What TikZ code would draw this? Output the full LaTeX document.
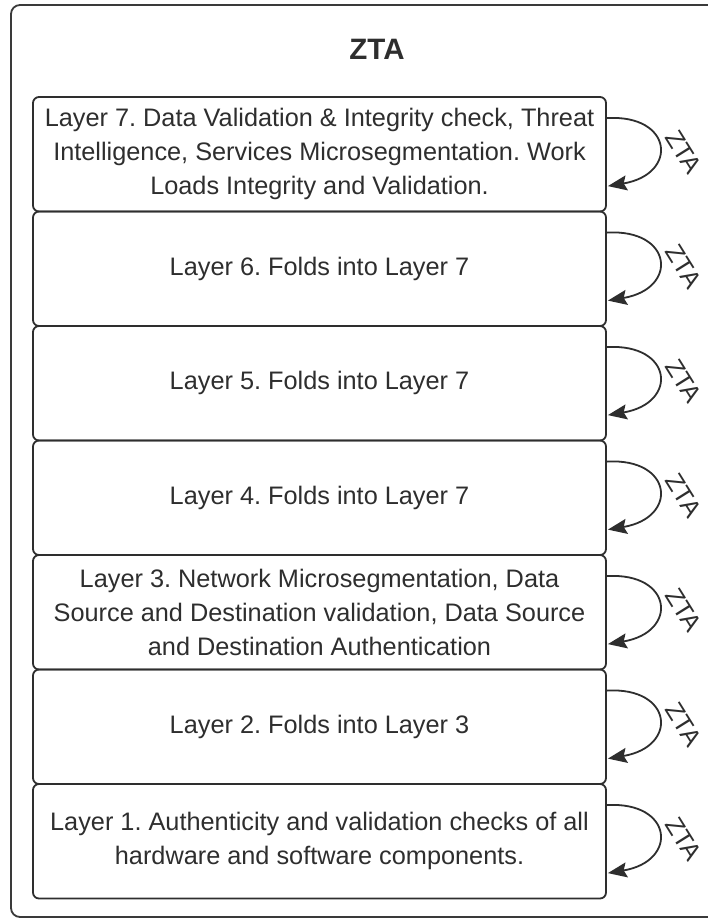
\documentclass[tikz,border=0pt]{standalone}
\usepackage{fontspec}
\setmainfont{Liberation Sans}
\usetikzlibrary{calc,arrows.meta}
\frenchspacing

\definecolor{ink}{HTML}{2E2E2E}
\definecolor{frameink}{HTML}{3A3A3A}

\tikzset{
  layerbox/.style={draw=ink, line width=1.8pt, rounded corners=6pt,
    minimum width=573pt, minimum height=114.5pt, inner sep=0pt,
    align=center, text=ink, font=\fontsize{25.3}{34}\selectfont},
  zloop/.style={draw=ink, line width=1.8pt,
    -{Stealth[length=19pt,width=15pt,inset=3pt]}},
  zlabel/.style={text=ink, rotate=-58, inner sep=0pt,
    font=\fontsize{25}{30}\selectfont},
  titletext/.style={text=ink, inner sep=0pt,
    font=\bfseries\fontsize{29.5}{34}\selectfont}
}

\begin{document}
\begin{tikzpicture}[x=1pt, y=-1pt]
  \useasboundingbox (0,0) rectangle (708,919);
  \begin{scope}
    \clip (0,0) rectangle (708,919);
    \fill[white] (0,0) rectangle (708,919);

    % outer container
    \draw[frameink, line width=1.8pt, rounded corners=9pt]
      (11,5) rectangle (745,917);
    \node[titletext] (title) at (377,49) {ZTA};

    % stacked layers, top to bottom
    \node[layerbox] (l7) at (319.5,154.25) {Layer 7. Data Validation \& Integrity check, Threat\\
      Intelligence, Services Microsegmentation. Work\\ Loads Integrity and Validation.};
    \node[layerbox] (l6) at (319.5,268.75) {Layer 6. Folds into Layer 7};
    \node[layerbox] (l5) at (319.5,383.25) {Layer 5. Folds into Layer 7};
    \node[layerbox] (l4) at (319.5,497.75) {Layer 4. Folds into Layer 7};
    \node[layerbox] (l3) at (319.5,612.25) {Layer 3. Network Microsegmentation, Data\\
      Source and Destination validation, Data Source\\ and Destination Authentication};
    \node[layerbox] (l2) at (319.5,726.75) {Layer 2. Folds into Layer 3};
    \node[layerbox] (l1) at (319.5,841.25) {Layer 1. Authenticity and validation checks of all\\
      hardware and software components.};

    % self-referencing ZTA loop on every layer
    \foreach \b in {l7,l6,l5,l4,l3,l2,l1} {
      \coordinate (\b s) at ($(\b.north east)+(0,22)$);
      \coordinate (\b e) at ($(\b.north east)+(1,90)$);
      \draw[zloop] (\b s) .. controls ($(\b.north east)+(66,18)$)
        and ($(\b.north east)+(72,78)$) .. (\b e);
      \node[zlabel] (\b z) at ($(\b.north east)+(77,56)$) {ZTA};
    }
  \end{scope}
\end{tikzpicture}
\end{document}
